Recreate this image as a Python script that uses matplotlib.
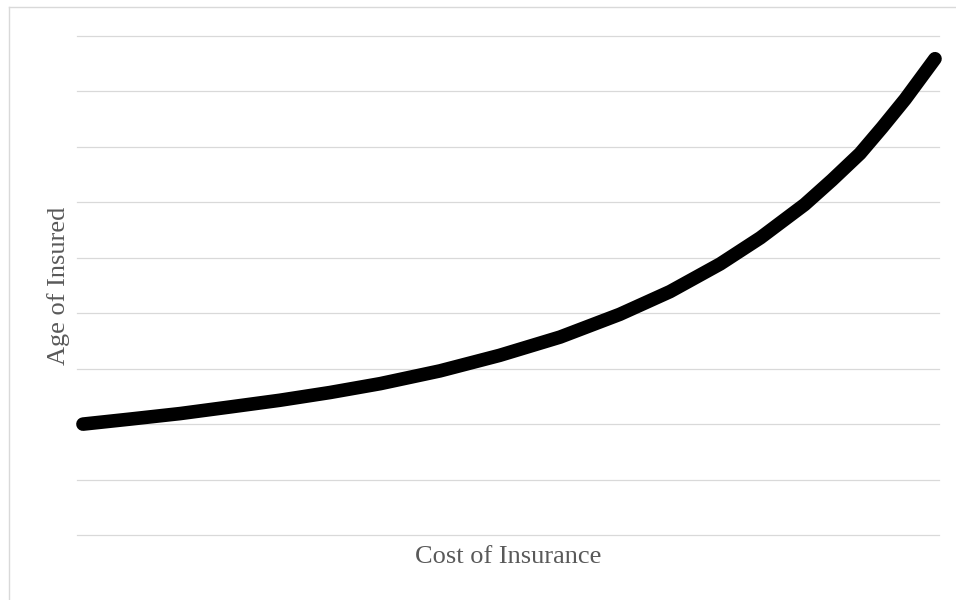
import matplotlib
matplotlib.use('Agg')
import matplotlib.pyplot as plt
from matplotlib.lines import Line2D

# cost of insurance (x) vs age of insured (y)
cost = [0, 5.5, 11.4, 17.3, 23.1, 29.0, 34.9, 41.9, 48.9, 56.0,
        63.0, 68.9, 74.8, 79.5, 84.7, 87.9, 91.2, 93.8, 96.5, 100]
age = [2.00, 2.09, 2.19, 2.31, 2.43, 2.57, 2.73, 2.96, 3.24, 3.57,
       3.98, 4.39, 4.89, 5.36, 5.96, 6.40, 6.88, 7.35, 7.86, 8.59]
y_grid = list(range(0, 10))

x_label = 'Cost of Insurance'
y_label = 'Age of Insured'

grid_col = '#d9d9d9'
text_col = '#595959'

fig = plt.figure(figsize=(9.56, 6.0), dpi=100)
fig.patch.set_facecolor('white')

# outer chart border (only left/top visible in the crop)
fig.add_artist(Line2D([8.5 / 956, 8.5 / 956], [0, 1 - 6.5 / 600],
                      color=grid_col, lw=1.0, transform=fig.transFigure))
fig.add_artist(Line2D([8.5 / 956, 1], [1 - 6.5 / 600, 1 - 6.5 / 600],
                      color=grid_col, lw=1.0, transform=fig.transFigure))

ax = fig.add_axes([77 / 956, 1 - 535 / 600, (939 - 77) / 956, (535 - 36) / 600])
ax.set_facecolor('white')

for yg in y_grid:
    ax.axhline(yg, color=grid_col, lw=0.9, zorder=1, clip_on=False)

ax.plot(cost, age, color='black', lw=9.8, solid_capstyle='round',
        solid_joinstyle='round', zorder=3, clip_on=False)

ax.set_xlim(-0.7, 100.47)
ax.set_ylim(0, 9)
ax.set_xticks([])
ax.set_yticks([])
for s in ax.spines.values():
    s.set_visible(False)

fig.text(508 / 956, 1 - 557 / 600, x_label, ha='center', va='center',
         fontsize=19, color=text_col, family='Liberation Serif')
fig.text(59 / 956, 1 - 286 / 600, y_label, ha='center', va='center',
         rotation=90, fontsize=19, color=text_col, family='Liberation Serif')

fig.savefig('out.png', dpi=100)
